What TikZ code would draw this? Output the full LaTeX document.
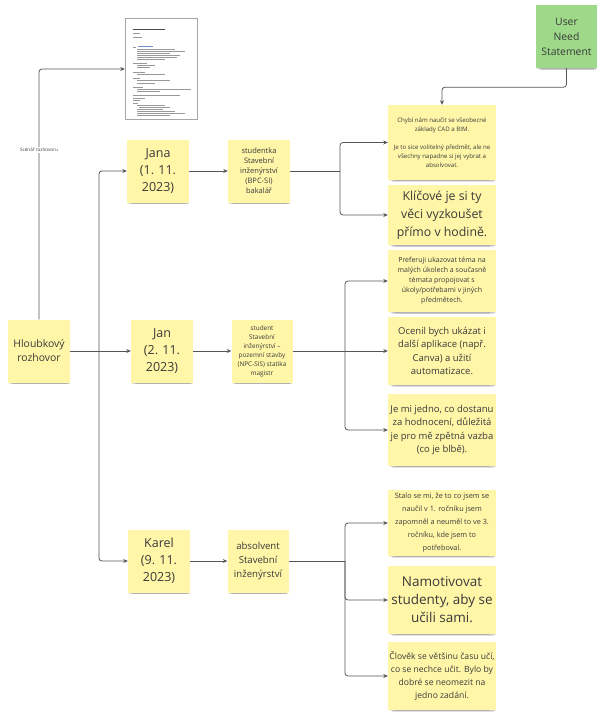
\documentclass[tikz,border=0pt]{standalone}
\usepackage{fontspec}
\setmainfont{Open Sans}
\usetikzlibrary{arrows.meta,shadows}
\definecolor{stickyY}{HTML}{FFF6A8}
\definecolor{stickyG}{HTML}{9ED98A}
\definecolor{txt}{HTML}{3A3A3A}
\definecolor{conn}{HTML}{555555}
\definecolor{docblue}{HTML}{6F8FC8}
\begin{document}
\begin{tikzpicture}[x=1pt,y=-1pt,
  sticky/.style={fill=stickyY, text=txt, align=center, inner sep=1pt,
     general shadow={shadow xshift=0.6pt, shadow yshift=-2pt, shadow scale=0.98, fill=black, opacity=0.11},
     general shadow={shadow xshift=0.8pt, shadow yshift=-4pt, shadow scale=0.94, fill=black, opacity=0.12},
     general shadow={shadow xshift=1pt, shadow yshift=-6pt, shadow scale=0.88, fill=black, opacity=0.10}},
  sz/.style 2 args={minimum width=#1pt, minimum height=#2pt},
  fs/.style 2 args={font=\fontsize{#1}{#2}\selectfont},
  line/.style={draw=conn, line width=0.8pt, rounded corners=3pt},
  arr/.style={line, -{Stealth[length=4.5pt,width=4pt]}},
  bar/.style={draw=black!40, line width=0.6pt},
]
\fill[white] (0,0) rectangle (600,720);
\useasboundingbox (0,0) rectangle (600,720);

% document thumbnail
\node[draw=black!35, fill=white, line width=0.4pt, minimum width=72pt, minimum height=101pt, inner sep=0pt] (doc) at (161,69) {};
\begin{scope}[shift={(doc.north west)}]
  \draw[bar, draw=black!70, line width=1pt] (8,11.5) -- (40,11.5);
  \foreach \a/\b/\y in {8/15/14.5, 8/17/18.5, 8/11/28.5}
    \draw[bar] (\a,\y) -- (\b,\y);
  \draw[bar, draw=docblue, line width=0.8pt] (13,28.5) -- (28,28.5);
  \foreach \a/\b/\y in {12/50/31, 12/60/33, 12/45/35, 12/55/37, 12/52/39, 12/40/41,
      8/22/44.5, 12/30/46.5, 12/25/49, 8/20/53.5, 12/40/56, 8/15/59.5, 12/45/62, 12/30/64.5,
      8/18/68.5, 12/66/71, 12/35/73, 8/55/76.5, 8/20/80, 8/15/82, 8/13/85,
      12/40/87, 14/45/89, 12/38/91, 12/50/93, 12/60/95, 12/45/97}
    \draw[bar] (\a,\y) -- (\b,\y);
\end{scope}

% main nodes
\node[sticky, sz={62}{63}, fs={10.4}{14}] (hl) at (39,351) {Hloubkový\\rozhovor};
\node[sticky, sz={62}{63}, fs={12.5}{17}] (jana) at (158,171) {Jana\\(1. 11.\\2023)};
\node[sticky, sz={62}{63}, fs={12.5}{17}] (jan) at (162,351) {Jan\\(2. 11.\\2023)};
\node[sticky, sz={62}{63}, fs={12.5}{17}] (karel) at (159,561) {Karel\\(9. 11.\\2023)};

\node[sticky, sz={62}{63}, fs={7.5}{10}] (js) at (259,171) {studentka\\Stavební\\inženýrství\\(BPC-SI)\\bakalář};
\node[sticky, sz={61}{63}, fs={6.4}{9}] (jns) at (262,351) {student\\Stavební\\inženýrství –\\pozemní stavby\\(NPC-SIS) statika\\magistr};
\node[sticky, sz={61}{63}, fs={9.6}{14}] (ks) at (258,561) {absolvent\\Stavební\\inženýrství};

% answers
\node[sticky, sz={108}{75}, fs={6.1}{9}] (ja1) at (442,142.5) {Chybí nám naučit se všeobecné\\základy CAD a BIM.\\[9pt]Je to sice volitelný předmět, ale ne\\všechny napadne si jej vybrat a\\absolvovat.};
\node[sticky, sz={108}{60}, fs={12.3}{18}] (ja2) at (442,215) {Klíčové je si ty\\věci vyzkoušet\\přímo v hodině.};

\node[sticky, sz={108}{62}, fs={7}{10}] (jn1) at (442,281) {Preferuji ukazovat téma na\\malých úkolech a současně\\témata propojovat s\\úkoly/potřebami v jiných\\předmětech.};
\node[sticky, sz={108}{68}, fs={9.5}{13.5}] (jn2) at (442,351) {Ocenil bych ukázat i\\další aplikace (např.\\Canva) a užití\\automatizace.};
\node[sticky, sz={108}{72}, fs={9.5}{13.5}] (jn3) at (442,430) {Je mi jedno, co dostanu\\za hodnocení, důležitá\\je pro mě zpětná vazba\\(co je blbě).};

\node[sticky, sz={108}{66}, fs={7.3}{13}] (k1) at (442,523) {Stalo se mi, že to co jsem se\\naučil v 1. ročníku jsem\\zapomněl a neuměl to ve 3.\\ročníku, kde jsem to\\potřeboval.};
\node[sticky, sz={108}{68}, fs={13.5}{18}] (k2) at (442,600) {Namotivovat\\studenty, aby se\\učili sami.};
\node[sticky, sz={108}{68}, fs={8.6}{13}] (k3) at (442,676) {Člověk se většinu času učí,\\co se nechce učit. Bylo by\\dobré se neomezit na\\jedno zadání.};

\node[sticky, fill=stickyG, sz={61}{63}, fs={10.4}{15}] (uns) at (566.5,36.5) {User\\Need\\Statement};

% connectors
\coordinate (trj) at (99,351);
\draw[line] (hl.east) -- (trj);
\draw[arr] (trj) -- (jan.west);
\draw[arr] (trj) |- (jana.west);
\draw[arr] (trj) |- (karel.west);
\draw[arr] (jana) -- (js);
\draw[arr] (jan) -- (jns);
\draw[arr] (karel) -- (ks);

\coordinate (jaj) at (340,171);
\draw[line] (js.east) -- (jaj);
\draw[arr] (jaj) |- (ja1.west);
\draw[arr] (jaj) |- (ja2.west);

\coordinate (jnj) at (345,351);
\draw[line] (jns.east) -- (jnj);
\draw[arr] (jnj) |- (jn1.west);
\draw[arr] (jnj) -- (jn2.west);
\draw[arr] (jnj) |- (jn3.west);

\coordinate (kj) at (345,561);
\draw[line] (ks.east) -- (kj);
\draw[arr] (kj) |- (k1.west);
\draw[arr] (kj) |- (k2.west);
\draw[arr] (kj) |- (k3.west);

\draw[arr] (uns.south) -- ++(0,19) -| (ja1.north);

\draw[arr] (hl.north) |- (doc.west);
\node[fill=white, text=txt, font=\fontsize{4.6}{5}\selectfont, inner sep=0.8pt] (scen) at (39,150) {Scénář rozhovoru};
\end{tikzpicture}
\end{document}
